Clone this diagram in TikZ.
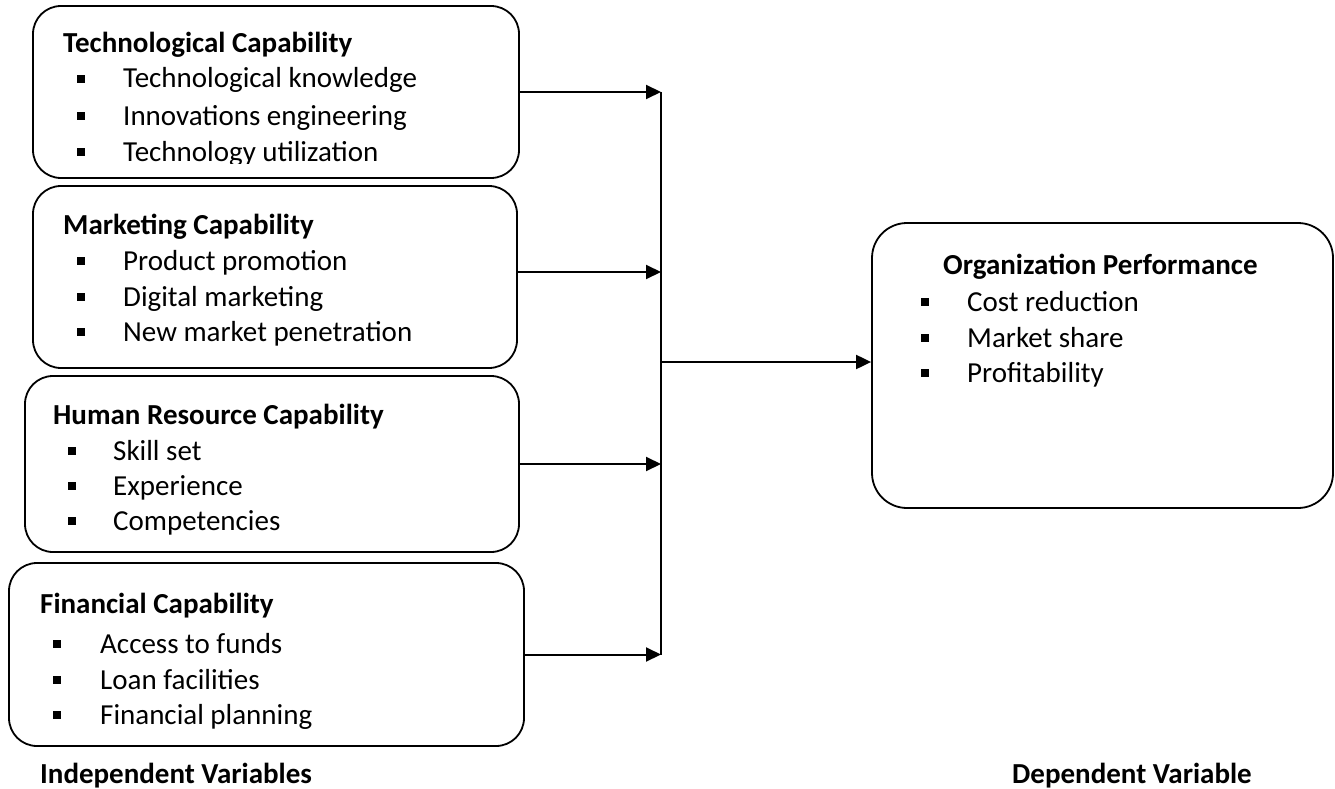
\documentclass[tikz,border=0pt]{standalone}
\usepackage{fontspec}
\setmainfont{Carlito}
\usetikzlibrary{arrows.meta}
% bullet item: name, bullet x, baseline y, text x, text
\newcommand\bitem[5]{%
  \node[sqbullet] (#1b) at (#2,#3-9) {};
  \node[itemtext] (#1) at (#4,#3) {#5};}
\begin{document}
\begin{tikzpicture}[x=1pt,y=-1pt,
  box/.style={draw,line width=1.8pt,rounded corners=28pt,inner sep=0pt},
  headtext/.style={anchor=base west,inner sep=0pt,font=\fontsize{29}{35}\selectfont\bfseries},
  itemtext/.style={anchor=base west,inner sep=0pt,font=\fontsize{29}{35}\selectfont},
  sqbullet/.style={fill=black,inner sep=0pt,minimum size=8pt},
  feed/.style={line width=2pt,-{Triangle[length=15pt,width=14pt]}},
  busline/.style={line width=1.3pt}]
\useasboundingbox (0,0) rectangle (1335,789);

% independent variable boxes
\node[box,minimum width=486pt,minimum height=172pt] (tech) at (276,92) {};
\node[box,minimum width=484pt,minimum height=182pt] (mkt)  at (275,277) {};
\node[box,minimum width=494pt,minimum height=176pt] (hr)   at (272,464) {};
\node[box,minimum width=515pt,minimum height=183pt] (fin)  at (266.5,654.5) {};
% dependent variable box
\node[box,rounded corners=35pt,minimum width=461pt,minimum height=285pt] (perf) at (1102.5,365.5) {};

% technological capability (last line cut off by the box)
\node[headtext] (techh) at (63,53) {Technological Capability};
\bitem{t1}{81}{88}{123}{Technological knowledge}
\bitem{t2}{81}{125}{123}{Innovations engineering}
\begin{scope}
  \clip (0,0) rectangle (1335,163);
  \bitem{t3}{81}{161}{123}{Technology utilization}
\end{scope}

% marketing capability
\node[headtext] (mkth) at (63,234) {Marketing Capability};
\bitem{m1}{81}{270}{123}{Product promotion}
\bitem{m2}{81}{306}{123}{Digital marketing}
\bitem{m3}{81}{341}{123}{New market penetration}

% human resource capability
\node[headtext] (hrh) at (53,424) {Human Resource Capability};
\bitem{h1}{72}{460}{113}{Skill set}
\bitem{h2}{72}{495}{113}{Experience}
\bitem{h3}{72}{530}{113}{Competencies}

% financial capability
\node[headtext] (finh) at (40,613) {Financial Capability};
\bitem{f1}{57}{653}{100}{Access to funds}
\bitem{f2}{57}{689}{100}{Loan facilities}
\bitem{f3}{57}{724}{100}{Financial planning}

% organization performance
\node[headtext] (perfh) at (943,274) {Organization Performance};
\bitem{p1}{925}{311}{967}{Cost reduction}
\bitem{p2}{925}{347}{967}{Market share}
\bitem{p3}{925}{382}{967}{Profitability}

% captions
\node[headtext] (indep) at (40,783) {Independent Variables};
\node[headtext] (dep) at (1012,783) {Dependent Variable};

% connectors
\coordinate (join) at (661,362);
\draw[busline] (tech.east -| join) -- (fin.east -| join);
\draw[feed] (tech.east) -- (tech.east -| join);
\draw[feed] ([yshift=5pt]mkt.east) -- ([yshift=5pt]mkt.east -| join);
\draw[feed] (hr.east) -- (hr.east -| join);
\draw[feed] (fin.east) -- (fin.east -| join);
\draw[feed] (join) -- (join -| perf.west);
\end{tikzpicture}
\end{document}
